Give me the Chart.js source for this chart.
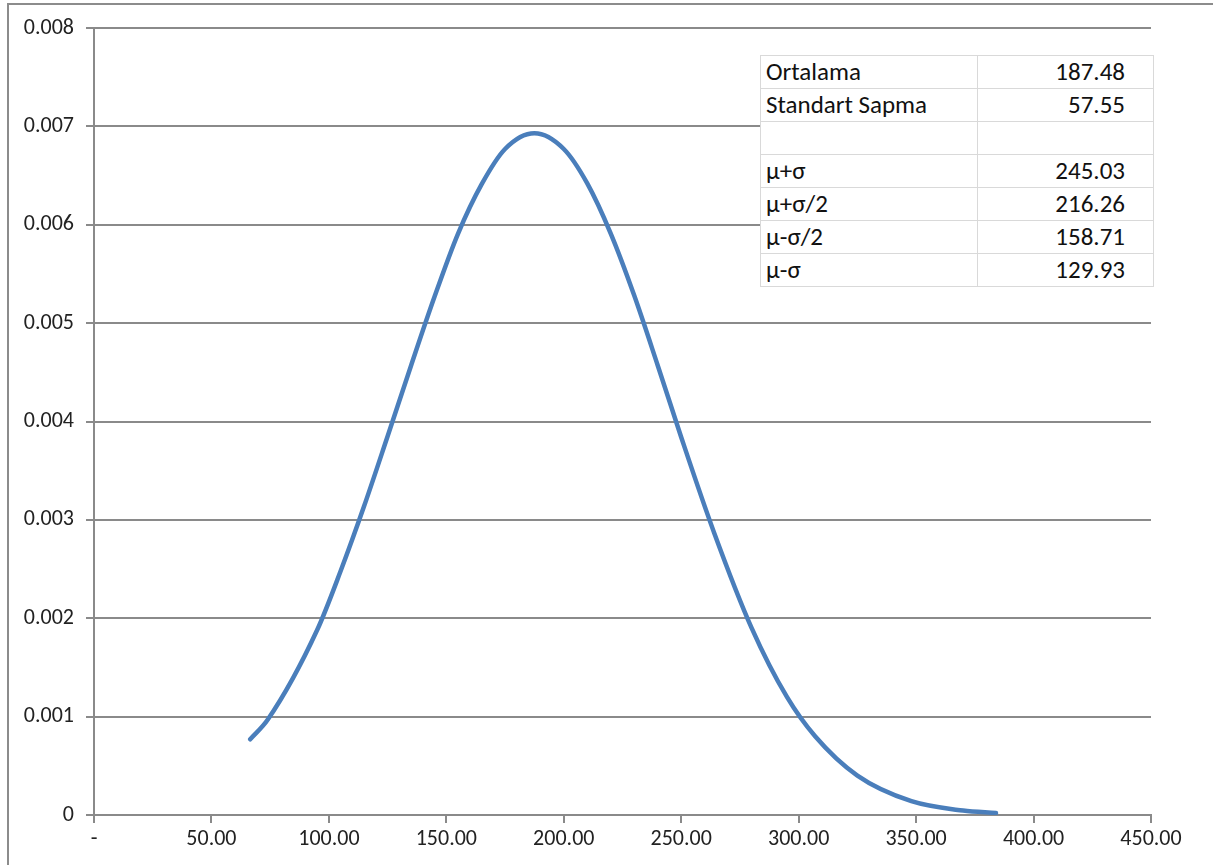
<!DOCTYPE html>
<html>
<head>
<meta charset="utf-8">
<script src="https://cdn.jsdelivr.net/npm/chart.js@4/dist/chart.umd.min.js"></script>
<style>
  html, body { margin: 0; padding: 0; background: #fff; }
  #wrap { position: relative; width: 1213px; height: 865px; overflow: hidden; }
  #frame { position: absolute; left: 7px; top: 3px; width: 1220px; height: 880px;
           border-left: 2px solid #8c8c8c; border-top: 2px solid #8c8c8c; pointer-events: none; }
  #stats { position: absolute; left: 760px; top: 55px; border-collapse: collapse; background: #fff;
           font-family: Calibri, Carlito, Lato, sans-serif; font-size: 25px; color: #111; }
  #stats td { border: 1px solid #d9d9d9; height: 32px; padding: 0; line-height: 32px; }
  #stats td.k { width: 211px; padding-left: 5px; text-align: left; }
  #stats td.v { width: 147px; padding-right: 28px; text-align: right; }
</style>
</head>
<body>
<div id="wrap">
  <canvas id="c" width="1213" height="865"></canvas>
  <div id="frame"></div>
  <table id="stats"></table>
</div>
<script>
// ---- data ----
const xValues = [66.5, 74, 95, 105, 115, 125, 135, 145, 155, 165, 175, 187.5, 200, 210, 220, 230, 240, 250, 264, 280, 295, 307, 325, 348, 370, 384];
const yValues = [0.00077, 0.00097, 0.00188, 0.00248, 0.00314, 0.00385, 0.00457, 0.00527, 0.00591, 0.00641, 0.00677, 0.00693, 0.00677, 0.00642, 0.00591, 0.00528, 0.00457, 0.00384, 0.00287, 0.00190, 0.00120, 0.00080, 0.00040, 0.00014, 0.000045, 0.00002];

const xTickValues = [0, 50, 100, 150, 200, 250, 300, 350, 400, 450];
const xTickLabels = ['-', '50.00', '100.00', '150.00', '200.00', '250.00', '300.00', '350.00', '400.00', '450.00'];
const yTickValues = [0, 0.001, 0.002, 0.003, 0.004, 0.005, 0.006, 0.007, 0.008];
const yTickLabels = ['0', '0.001', '0.002', '0.003', '0.004', '0.005', '0.006', '0.007', '0.008'];

const statLabels = ['Ortalama', 'Standart Sapma', '', 'μ+σ', 'μ+σ/2', 'μ-σ/2', 'μ-σ'];
const statValues = ['187.48', '57.55', '', '245.03', '216.26', '158.71', '129.93'];

// ---- table ----
const tbl = document.getElementById('stats');
statLabels.forEach((lab, i) => {
  const tr = document.createElement('tr');
  const a = document.createElement('td'); a.className = 'k'; a.textContent = lab;
  const b = document.createElement('td'); b.className = 'v'; b.textContent = statValues[i];
  tr.appendChild(a); tr.appendChild(b); tbl.appendChild(tr);
});

// ---- chart ----
const points = xValues.map((x, i) => ({ x: x, y: yValues[i] }));
const gridColor = '#8a8a8a';
const font = { family: 'Calibri, Carlito, Lato, sans-serif', size: 22 };

function labelFor(values, labels, v) {
  for (let i = 0; i < values.length; i++) {
    if (Math.abs(values[i] - v) < 1e-9) return labels[i];
  }
  return '';
}

new Chart(document.getElementById('c'), {
  type: 'scatter',
  data: {
    datasets: [{
      data: points,
      showLine: true,
      borderColor: '#4a7ebb',
      backgroundColor: '#4a7ebb',
      borderWidth: 4.5,
      pointRadius: 0,
      pointHoverRadius: 0,
      cubicInterpolationMode: 'monotone',
      borderCapStyle: 'round',
      borderJoinStyle: 'round'
    }]
  },
  options: {
    responsive: false,
    animation: false,
    devicePixelRatio: 1,
    layout: { padding: { left: 0, top: 28, right: 62, bottom: 0 } },
    plugins: { legend: { display: false }, tooltip: { enabled: false } },
    scales: {
      x: {
        type: 'linear',
        min: 0, max: 450,
        afterBuildTicks: s => { s.ticks = xTickValues.map(v => ({ value: v })); },
        afterFit: s => { s.height = 50; },
        grid: { drawOnChartArea: false, drawTicks: true, tickLength: 8, color: gridColor, lineWidth: 2 },
        border: { display: true, color: gridColor, width: 2 },
        ticks: {
          color: '#222', font: font, padding: 3, maxRotation: 0,
          callback: v => labelFor(xTickValues, xTickLabels, v)
        }
      },
      y: {
        type: 'linear',
        min: 0, max: 0.008,
        afterBuildTicks: s => { s.ticks = yTickValues.map(v => ({ value: v })); },
        afterFit: s => { s.width = 94; },
        grid: { drawOnChartArea: true, drawTicks: true, tickLength: 8, color: gridColor, lineWidth: 2 },
        border: { display: true, color: gridColor, width: 2 },
        ticks: {
          color: '#222', font: font, padding: 12,
          callback: v => labelFor(yTickValues, yTickLabels, v)
        }
      }
    }
  }
});
</script>
</body>
</html>
